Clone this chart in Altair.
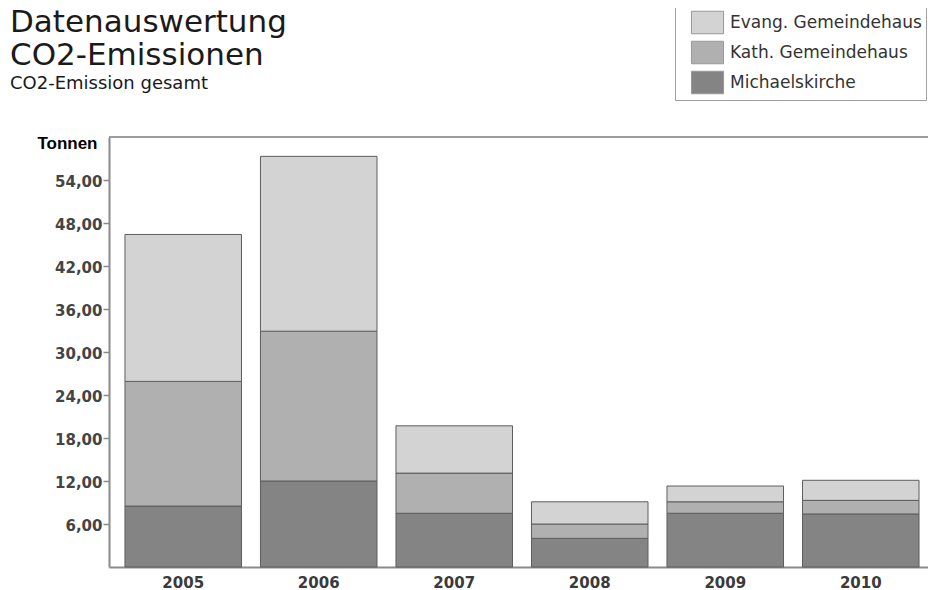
import altair as alt
import pandas as pd

years = ["2005", "2006", "2007", "2008", "2009", "2010"]
series = ["Evang. Gemeindehaus", "Kath. Gemeindehaus", "Michaelskirche"]
michaelskirche = [8.5, 12.0, 7.5, 4.0, 7.5, 7.4]
kath = [17.4, 20.9, 5.6, 2.0, 1.6, 1.9]
evang = [20.5, 24.4, 6.6, 3.1, 2.2, 2.8]
y_ticks = [6, 12, 18, 24, 30, 36, 42, 48, 54]
colors = ["#d3d3d3", "#b0b0b0", "#848484"]

rows = []
for i, yr in enumerate(years):
    rows.append({"Jahr": yr, "Gebäude": "Michaelskirche", "Wert": michaelskirche[i], "ord": 0})
    rows.append({"Jahr": yr, "Gebäude": "Kath. Gemeindehaus", "Wert": kath[i], "ord": 1})
    rows.append({"Jahr": yr, "Gebäude": "Evang. Gemeindehaus", "Wert": evang[i], "ord": 2})
df = pd.DataFrame(rows)

bars = alt.Chart(df).mark_bar(stroke="#5e5e5e", strokeWidth=1).encode(
    x=alt.X("Jahr:N", sort=years,
            scale=alt.Scale(paddingInner=0.14, paddingOuter=0.092, align=0.64),
            axis=alt.Axis(title=None, ticks=False, labelAngle=0, labelPadding=8,
                          labelFont="DejaVu Sans", labelFontSize=15, labelFontWeight="bold",
                          labelColor="#3a3a3a",
                          domainColor="#8a8a8a", domainWidth=2, grid=False)),
    y=alt.Y("Wert:Q", stack="zero",
            scale=alt.Scale(domain=[0, 60], nice=False),
            axis=alt.Axis(values=y_ticks, title="Tonnen", titleAngle=0, titleAlign="right",
                          titleBaseline="alphabetic", titleX=-12, titleY=11,
                          titleFont="Liberation Sans", titleFontSize=17, titleFontWeight="bold",
                          titleColor="#000000",
                          labelExpr="replace(format(datum.value, '.2f'), '.', ',')",
                          labelFont="DejaVu Sans", labelFontSize=15, labelFontWeight="bold",
                          labelColor="#444444",
                          labelPadding=1, labelOffset=1, tickSize=6, tickColor="#8a8a8a",
                          tickWidth=1.5, domainColor="#8a8a8a", domainWidth=2,
                          gridColor="#9c9c9c", gridWidth=1.6)),
    color=alt.Color("Gebäude:N",
                    scale=alt.Scale(domain=series, range=colors),
                    legend=alt.Legend(title=None, orient="none", legendX=566, legendY=-134,
                                      symbolType="M-1.07,-0.75H1.07V0.75H-1.07Z",
                                      symbolSize=900, symbolStrokeColor="#999999",
                                      symbolStrokeWidth=1, symbolOffset=13, labelOffset=7,
                                      labelFont="DejaVu Sans", labelFontSize=17,
                                      labelLimit=400,
                                      labelColor="#333333", rowPadding=1, padding=4,
                                      strokeColor="#a0a0a0", fillColor="#ffffff")),
    order=alt.Order("ord:Q", sort="ascending"),
)

top_line = alt.Chart(df).mark_rule(color="#9c9c9c", strokeWidth=1.6).encode(
    y=alt.datum(60)
)

chart = alt.layer(top_line, bars).properties(
    width=819,
    height=430,
    autosize=alt.AutoSizeParams(type="none"),
    padding={"left": 101, "top": 129, "right": 0, "bottom": 23},
    title=alt.TitleParams(
        text=["Datenauswertung", "CO2-Emissionen"],
        subtitle="CO2-Emission gesamt",
        anchor="start", frame="group", dx=-99, offset=-91,
        font="DejaVu Sans", fontSize=31, fontWeight="normal", color="#1a1a1a",
        lineHeight=33,
        subtitleFont="DejaVu Sans", subtitleFontSize=18, subtitleColor="#1a1a1a",
        subtitlePadding=3,
    ),
).configure_view(stroke=None)

chart.save("out.html", embed_options={"renderer": "svg", "actions": False})
